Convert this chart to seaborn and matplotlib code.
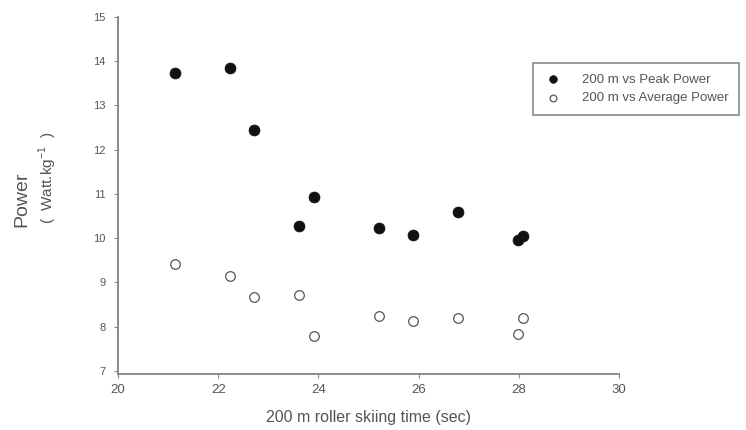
import matplotlib
matplotlib.use('Agg')
import matplotlib.pyplot as plt
import seaborn as sns
import pandas as pd

# Data
roller_time = [21.13, 22.23, 22.72, 23.62, 23.91, 25.20, 25.89, 26.79, 27.98, 28.08]
peak_power = [13.74, 13.84, 12.44, 10.28, 10.93, 10.22, 10.08, 10.59, 9.95, 10.05]
avg_power = [9.42, 9.15, 8.67, 8.72, 7.79, 8.24, 8.13, 8.20, 7.84, 8.20]

x_ticks = [20, 22, 24, 26, 28, 30]
y_ticks = [7, 8, 9, 10, 11, 12, 13, 14, 15]

peak_label = '200 m vs Peak Power'
avg_label = '200 m vs Average Power'

df = pd.DataFrame({'time': roller_time, 'peak': peak_power, 'avg': avg_power})

sns.set_style('white')
plt.rcParams['font.family'] = ['Liberation Sans', 'DejaVu Sans']
plt.rcParams['mathtext.fontset'] = 'custom'
plt.rcParams['mathtext.rm'] = 'Liberation Sans'

text_col = '#555555'
spine_col = '#8a8a8a'

fig = plt.figure(figsize=(7.46, 4.30), dpi=100)
ax = fig.add_axes([0.1582, 0.1295, 0.8298 - 0.1582, 0.9605 - 0.1295])

sns.scatterplot(data=df, x='time', y='peak', ax=ax, color='#111111',
                edgecolor='#111111', s=62, linewidth=0.5, label=peak_label, zorder=3)
sns.scatterplot(data=df, x='time', y='avg', ax=ax, facecolor='white',
                edgecolor='#555555', s=48, linewidth=0.9, label=avg_label, zorder=3)

ax.set_xlim(20, 30)
ax.set_ylim(6.92, 15)
ax.set_xticks(x_ticks)
ax.set_yticks(y_ticks)

sns.despine(ax=ax)
for side in ['left', 'bottom']:
    ax.spines[side].set_color(spine_col)
    ax.spines[side].set_linewidth(1.4)

ax.tick_params(axis='both', direction='out', length=3, width=0.8,
               color=spine_col, labelcolor=text_col)
ax.tick_params(axis='x', labelsize=9.5, pad=4, bottom=True)
ax.tick_params(axis='y', labelsize=8, pad=6, left=True)

ax.set_xlabel('200 m roller skiing time (sec)', fontsize=11.5, color=text_col, labelpad=10)
ax.set_ylabel('')

# two-part y label, as in the original
fig.text(22 / 746, 1 - 227 / 430, 'Power', rotation=90, ha='center', va='bottom',
         fontsize=14, color=text_col)
fig.text(48 / 746, 1 - 224 / 430, '(  Watt.kg$^{-1}$  )', rotation=90, ha='center',
         va='bottom', fontsize=11, color=text_col)

leg = ax.legend(loc='upper left', bbox_to_anchor=(533 / 746, 1 - 63 / 430),
                bbox_transform=fig.transFigure, borderaxespad=0, fontsize=9.5,
                frameon=True, fancybox=False, framealpha=1, edgecolor='#8a8a8a',
                borderpad=0.8, handlelength=1.4, handletextpad=1.5, labelspacing=0.45,
                markerscale=0.7)
leg.get_frame().set_linewidth(1.2)
for t in leg.get_texts():
    t.set_color(text_col)

fig.savefig('out.png', dpi=100)
